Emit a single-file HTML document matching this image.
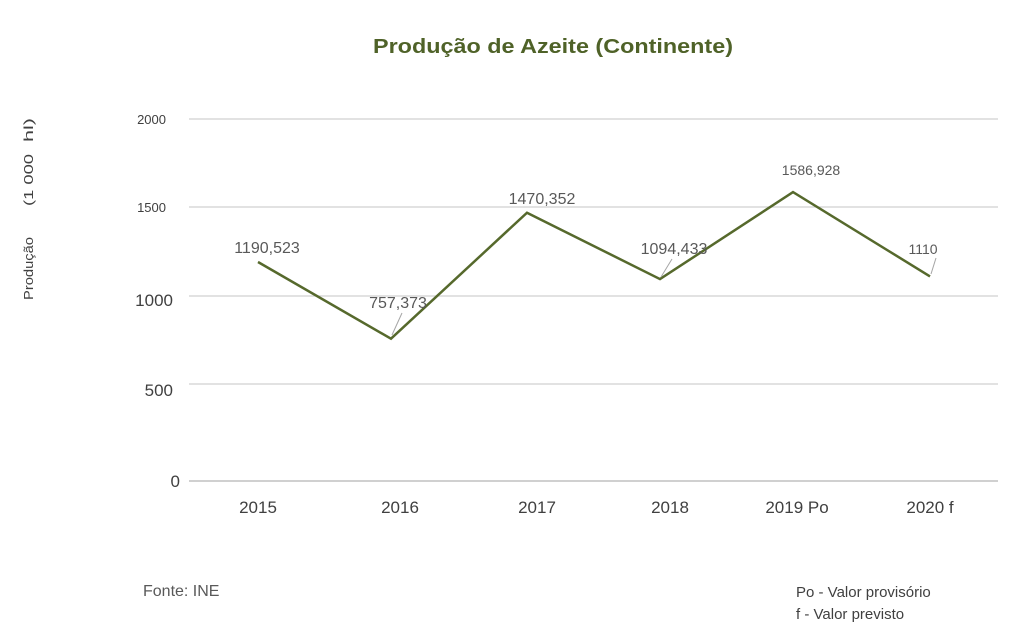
<!DOCTYPE html>
<html><head><style>
body{margin:0;background:#fff;}
svg{display:block;font-family:"Liberation Sans",sans-serif;}
</style></head><body>
<svg width="1026" height="634" viewBox="0 0 1026 634">
<rect width="1026" height="634" fill="#fff"/>
<text x="373" y="53" font-size="20" font-weight="bold" fill="#4f6228" textLength="360" lengthAdjust="spacingAndGlyphs">Produção de Azeite (Continente)</text>
<g stroke="#d0d0d0" stroke-width="1.2">
<line x1="189" y1="119" x2="998" y2="119"/>
<line x1="189" y1="207" x2="998" y2="207"/>
<line x1="189" y1="296" x2="998" y2="296"/>
<line x1="189" y1="384" x2="998" y2="384"/>
</g>
<line x1="189" y1="481" x2="998" y2="481" stroke="#d0d0d0" stroke-width="2"/>
<g fill="#404040" text-anchor="end">
<text x="166" y="124" font-size="13">2000</text>
<text x="166" y="212" font-size="13">1500</text>
<text x="173" y="306" font-size="17">1000</text>
<text x="173" y="396" font-size="17">500</text>
<text x="180" y="487" font-size="17">0</text>
</g>
<g fill="#404040" font-size="17" text-anchor="middle">
<text x="258" y="513">2015</text>
<text x="400" y="513">2016</text>
<text x="537" y="513">2017</text>
<text x="670" y="513">2018</text>
<text x="797" y="513">2019 Po</text>
<text x="930" y="513">2020 f</text>
</g>
<g transform="rotate(-90)" font-size="13" fill="#404040">
<text x="-300" y="33" textLength="63" lengthAdjust="spacingAndGlyphs">Produção</text>
<text x="-206" y="33" textLength="52" lengthAdjust="spacingAndGlyphs">(1 000</text>
<text x="-142" y="33" textLength="24" lengthAdjust="spacingAndGlyphs">hl)</text>
</g>
<polyline points="258,262 391,338.7 527,212.7 660,279.1 793,192.1 930,276.4" fill="none" stroke="#56692c" stroke-width="2.5" stroke-linejoin="miter"/>
<g stroke="#a6a6a6" stroke-width="1">
<line x1="392" y1="335" x2="402" y2="313"/>
<line x1="661" y1="277" x2="672" y2="259"/>
<line x1="931" y1="274" x2="936" y2="258"/>
</g>
<g fill="#595959" text-anchor="middle">
<text x="267" y="253" font-size="16">1190,523</text>
<text x="398" y="308" font-size="16">757,373</text>
<text x="542" y="204" font-size="16">1470,352</text>
<text x="674" y="254" font-size="16">1094,433</text>
<text x="811" y="175" font-size="14">1586,928</text>
<text x="923" y="254" font-size="14">1110</text>
</g>
<text x="143" y="596" font-size="16" fill="#595959">Fonte: INE</text>
<text x="796" y="597" font-size="15" fill="#404040">Po - Valor provisório</text>
<text x="796" y="619" font-size="15" fill="#404040">f - Valor previsto</text>
</svg>
</body></html>
